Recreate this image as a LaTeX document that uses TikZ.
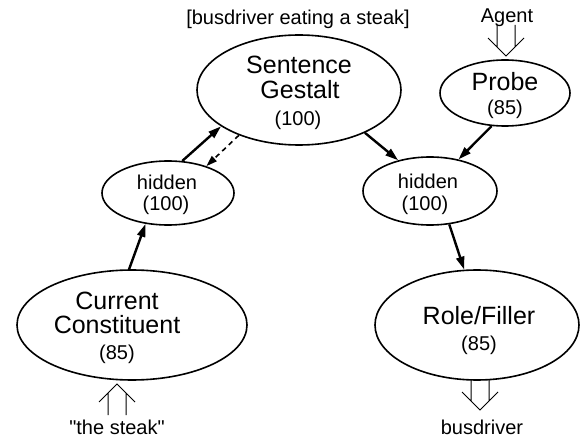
\documentclass[tikz,border=0pt]{standalone}
\usepackage{fontspec}
\setmainfont{Liberation Sans}
\newfontfamily\plainsans{Liberation Sans}
\usetikzlibrary{arrows.meta,shapes.geometric}
\begin{document}
\begin{tikzpicture}[x=1pt,y=-1pt,
  unit/.style={draw, ellipse, line width=1.6pt, inner sep=0pt},
  big/.style={font=\fontsize{25}{30}\selectfont, inner sep=0pt, text height=18pt, text depth=0pt},
  small/.style={font=\fontsize{20}{24}\selectfont, inner sep=0pt, text height=14.4pt, text depth=0pt},
  conn/.style={line width=2.4pt, -{Triangle[length=13pt,width=8pt]}},
  dconn/.style={line width=1.6pt, dash pattern=on 5pt off 4pt, -{Triangle[length=11pt,width=7pt]}},
  hollow/.pic={\draw[line width=1pt] (-18,18)--(0,0)--(18,18) (-9,9)--(-9,31) (9,9)--(9,31);}
]
\useasboundingbox (0,0) rectangle (581,438);

% units
\node[unit, minimum width=204pt, minimum height=110pt] (sg) at (299,90) {};
\node[unit, minimum width=130pt, minimum height=66pt] (probe) at (505,93) {};
\node[unit, minimum width=132pt, minimum height=64pt] (hl) at (168,193) {};
\node[unit, minimum width=134pt, minimum height=68pt] (hr) at (430,191) {};
\node[unit, minimum width=230pt, minimum height=110pt] (cc) at (132,325) {};
\node[unit, minimum width=204pt, minimum height=110pt] (rf) at (477,325) {};

% texts
\node[small] (event) at (298,17) {[busdriver eating a steak]};
\node[small] (agent) at (507,15) {Agent};
\node[big] (sg1) at (299,65) {Sentence};
\node[big] (sg2) at (300,90) {Gestalt};
\node[small] (sg3) at (298,118) {(100)};
\node[big] (pr1) at (505,82) {Probe};
\node[small] (pr2) at (505,107) {(85)};
\node[small] (hl1) at (167,182) {hidden};
\node[small] (hl2) at (166,203) {(100)};
\node[small] (hr1) at (428,181) {hidden};
\node[small] (hr2) at (425,203) {(100)};
\node[big] (cc1) at (117,300) {Current};
\node[big] (cc2) at (117,325) {Constituent};
\node[small] (cc3) at (117,352) {(85)};
\node[big] (rf1) at (479,315) {Role/Filler};
\node[small] (rf2) at (479,343) {(85)};
\node[small] (steak) at (117,427) {\plainsans "the steak"};
\node[small] (bus) at (482,427) {busdriver};

% connectors
\draw[conn] (cc.93) -- (hl.234);
\draw[conn] (hl.66) -- (sg.205);
\draw[dconn] (sg.217) -- (hl.35);
\draw[conn] (sg.327) -- (hr.136);
\draw[conn] (probe.248) -- (hr.48);
\draw[conn] (hr.300) -- (rf.103);

% input / output arrows
\pic at (117,384) {hollow};
\pic[yscale=-1] at (480,410) {hollow};
\pic[yscale=-1] at (506,56) {hollow};
\end{tikzpicture}
\end{document}
